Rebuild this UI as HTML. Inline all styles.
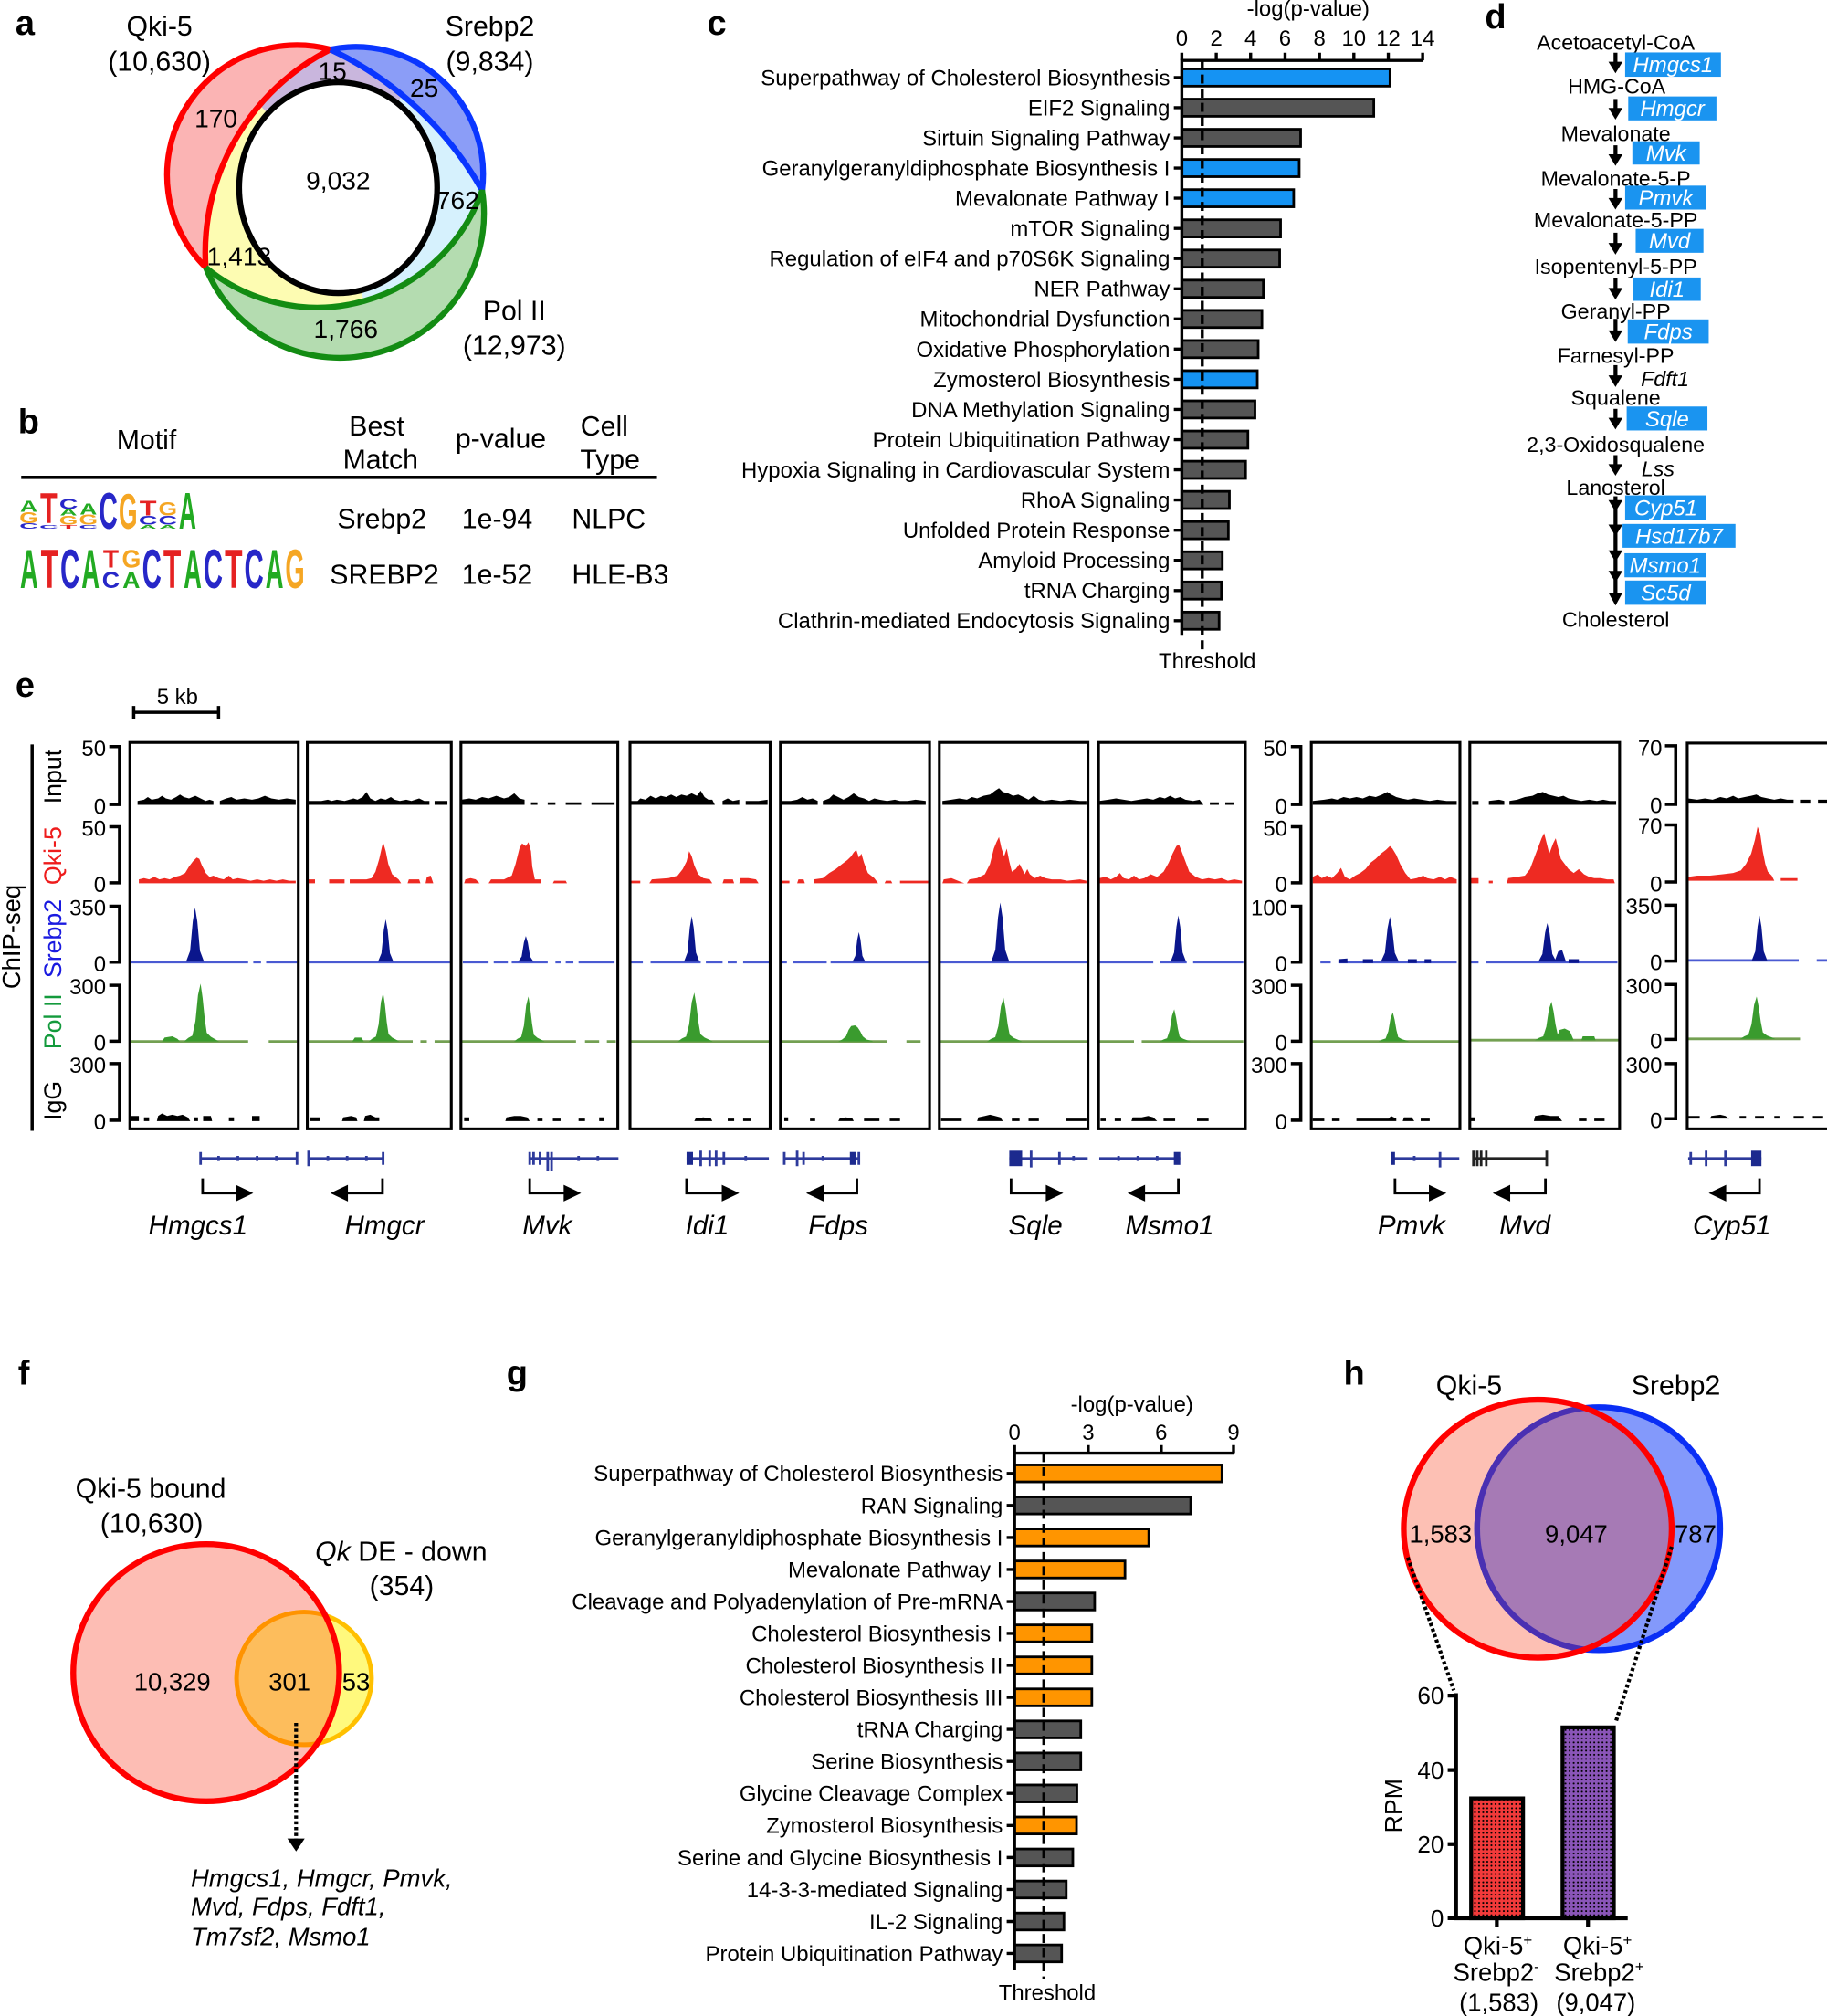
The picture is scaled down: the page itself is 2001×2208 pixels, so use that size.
<!DOCTYPE html>
<html><head><meta charset="utf-8"><style>
html,body{margin:0;padding:0;background:#fff;}
svg{display:block;}
text{font-family:"Liberation Sans",Arial,Helvetica,sans-serif;}
.pl{font-size:27px;font-weight:bold;}
.lg{font-size:100px;font-weight:bold;text-anchor:middle;}
.c17{font-size:17px;}
.e{text-anchor:end;}
.m{text-anchor:middle;}
.it{font-style:italic;}
</style></head><body>
<svg width="2001" height="2208" viewBox="0 0 1421 1568" xmlns="http://www.w3.org/2000/svg">
<defs>
<clipPath id="innerA"><path d="M257,38.5 A177,177 0 0 0 160,208 A136,136 0 0 0 375,148 A265,265 0 0 0 257,38.5 Z"/></clipPath>
<clipPath id="redF"><ellipse cx="160.4" cy="1301" rx="103.4" ry="100"/></clipPath>
<clipPath id="redH"><ellipse cx="1196" cy="1189" rx="104.2" ry="100.3"/></clipPath>
<pattern id="dotR" width="3.2" height="3.2" patternUnits="userSpaceOnUse"><rect width="3.2" height="3.2" fill="#f23a3a"/><circle cx="1.6" cy="1.6" r="0.75" fill="#000"/></pattern>
<pattern id="dotP" width="3.2" height="3.2" patternUnits="userSpaceOnUse"><rect width="3.2" height="3.2" fill="#8a55b8"/><circle cx="1.6" cy="1.6" r="0.75" fill="#000"/></pattern>
</defs>
<rect width="1421" height="1568" fill="#fff"/>

<!-- ============ PANEL A ============ -->
<text class="pl" x="12" y="27">a</text>
<g font-size="21.5" text-anchor="middle">
<text x="124" y="27.7">Qki-5</text><text x="124" y="55.2">(10,630)</text>
<text x="381" y="27.7">Srebp2</text><text x="381" y="55.2">(9,834)</text>
<text x="400" y="249">Pol II</text><text x="400" y="276">(12,973)</text>
</g>
<path d="M257,38.5 A101,101 0 0 0 160,208 A177,177 0 0 1 257,38.5 Z" fill="#fbb4b4"/>
<path d="M257,38.5 A99,99 0 0 1 375,148 A265,265 0 0 0 257,38.5 Z" fill="#8b9df7"/>
<path d="M160,208 A112.3,112.3 0 0 0 375,148 A136,136 0 0 1 160,208 Z" fill="#b4dcb0"/>
<g clip-path="url(#innerA)">
<rect x="100" y="0" width="320" height="300" fill="#fdfcb2"/>
<polygon points="263,146 80,-47 413,-70" fill="#c9b6dd"/>
<polygon points="263,146 413,-70 600,-70 600,400 335,466" fill="#d6f1fd"/>
</g>
<ellipse cx="263" cy="146" rx="77" ry="82" fill="#fff" stroke="#000" stroke-width="4.5"/>
<g fill="none" stroke-width="4.5">
<path d="M257,38.5 A101,101 0 0 0 160,208 A177,177 0 0 1 257,38.5" stroke="#ff0000"/>
<path d="M257,38.5 A99,99 0 0 1 375,148 A265,265 0 0 0 257,38.5" stroke="#0a36ff"/>
<path d="M160,208 A112.3,112.3 0 0 0 375,148 A136,136 0 0 1 160,208" stroke="#138c13"/>
</g>
<g font-size="20" text-anchor="middle">
<text x="258.6" y="62">15</text><text x="330" y="75.4">25</text><text x="168" y="99.2">170</text>
<text x="263" y="147.2">9,032</text><text x="356" y="162.7">762</text><text x="186" y="206.2">1,413</text><text x="269" y="262.8">1,766</text>
</g>

<!-- ============ PANEL B ============ -->
<text class="pl" x="14" y="337">b</text>
<g font-size="21.5" text-anchor="middle">
<text x="114" y="349.5">Motif</text>
<text x="293" y="338.7">Best</text><text x="296" y="364.7">Match</text>
<text x="389.5" y="348.5">p-value</text>
<text x="470" y="338.7">Cell</text><text x="474.5" y="364.7">Type</text>
<text x="297" y="411">Srebp2</text><text x="386.7" y="411">1e-94</text><text x="473.5" y="411">NLPC</text>
<text x="299" y="454">SREBP2</text><text x="386.7" y="454">1e-52</text><text x="482.5" y="454">HLE-B3</text>
</g>
<line x1="16.5" y1="371.3" x2="511" y2="371.3" stroke="#000" stroke-width="2.6"/>
<!-- logo row 1 -->
<g>
<text class="lg" fill="#2727c8" transform="translate(22.4,411) scale(0.2015,0.056)">C</text>
<text class="lg" fill="#f5a623" transform="translate(22.4,407) scale(0.1875,0.125)">G</text>
<text class="lg" fill="#22aa22" transform="translate(22.4,398) scale(0.1875,0.125)">A</text>
<text class="lg" fill="#2727c8" transform="translate(37.9,411) scale(0.2015,0.042)">C</text>
<text class="lg" fill="#e52222" transform="translate(37.9,407) scale(0.218,0.333)">T</text>
<text class="lg" fill="#e52222" transform="translate(53.3,411) scale(0.218,0.042)">T</text>
<text class="lg" fill="#f5a623" transform="translate(53.3,408) scale(0.1875,0.097)">G</text>
<text class="lg" fill="#22aa22" transform="translate(53.3,401) scale(0.1875,0.069)">A</text>
<text class="lg" fill="#2727c8" transform="translate(53.3,396) scale(0.2015,0.111)">C</text>
<text class="lg" fill="#2727c8" transform="translate(68.7,411) scale(0.2015,0.042)">C</text>
<text class="lg" fill="#f5a623" transform="translate(68.7,408) scale(0.1875,0.111)">G</text>
<text class="lg" fill="#22aa22" transform="translate(68.7,400) scale(0.1875,0.125)">A</text>
<text class="lg" fill="#2727c8" transform="translate(84.2,411) scale(0.2015,0.403)">C</text>
<text class="lg" fill="#f5a623" transform="translate(99.6,411) scale(0.1875,0.389)">G</text>
<text class="lg" fill="#22aa22" transform="translate(115.1,411) scale(0.1875,0.042)">A</text>
<text class="lg" fill="#2727c8" transform="translate(115.1,408) scale(0.2015,0.097)">C</text>
<text class="lg" fill="#e52222" transform="translate(115.1,401) scale(0.218,0.167)">T</text>
<text class="lg" fill="#22aa22" transform="translate(130.5,411) scale(0.1875,0.042)">A</text>
<text class="lg" fill="#2727c8" transform="translate(130.5,408) scale(0.2015,0.097)">C</text>
<text class="lg" fill="#f5a623" transform="translate(130.5,401) scale(0.1875,0.153)">G</text>
<text class="lg" fill="#22aa22" transform="translate(145.9,411) scale(0.1875,0.403)">A</text>
</g>
<!-- logo row 2 -->
<g>
<text class="lg" fill="#22aa22" transform="translate(22.65,457.4) scale(0.194,0.428)">A</text>
<text class="lg" fill="#e52222" transform="translate(38.55,457.4) scale(0.226,0.428)">T</text>
<text class="lg" fill="#2727c8" transform="translate(54.45,457.4) scale(0.209,0.428)">C</text>
<text class="lg" fill="#22aa22" transform="translate(70.35,457.4) scale(0.194,0.428)">A</text>
<text class="lg" fill="#e52222" transform="translate(86.25,441.5) scale(0.2,0.2)">T</text>
<text class="lg" fill="#2727c8" transform="translate(86.25,457.4) scale(0.19,0.18)">C</text>
<text class="lg" fill="#f5a623" transform="translate(102.15,441.5) scale(0.19,0.2)">G</text>
<text class="lg" fill="#22aa22" transform="translate(102.15,457.4) scale(0.19,0.18)">A</text>
<text class="lg" fill="#2727c8" transform="translate(118.05,457.4) scale(0.209,0.428)">C</text>
<text class="lg" fill="#e52222" transform="translate(133.95,457.4) scale(0.226,0.428)">T</text>
<text class="lg" fill="#22aa22" transform="translate(149.85,457.4) scale(0.194,0.428)">A</text>
<text class="lg" fill="#2727c8" transform="translate(165.75,457.4) scale(0.209,0.428)">C</text>
<text class="lg" fill="#e52222" transform="translate(181.65,457.4) scale(0.226,0.428)">T</text>
<text class="lg" fill="#2727c8" transform="translate(197.55,457.4) scale(0.209,0.428)">C</text>
<text class="lg" fill="#22aa22" transform="translate(213.45,457.4) scale(0.194,0.428)">A</text>
<text class="lg" fill="#f5a623" transform="translate(229.35,457.4) scale(0.194,0.428)">G</text>
</g>

<!-- ============ PANEL C ============ -->
<text class="pl" x="550" y="27">c</text>
<text class="c17 m" x="1017.5" y="12.5">-log(p-value)</text>
<g class="c17" text-anchor="middle">
<text x="919.2" y="35.5">0</text><text x="946" y="35.5">2</text><text x="972.7" y="35.5">4</text><text x="999.5" y="35.5">6</text>
<text x="1026.3" y="35.5">8</text><text x="1053" y="35.5">10</text><text x="1079.8" y="35.5">12</text><text x="1106.5" y="35.5">14</text>
</g>
<g stroke="#000" stroke-width="2">
<rect x="919.2" y="53.6" width="161.9" height="13.4" fill="#1593f3"/>
<rect x="919.2" y="77.07" width="149.3" height="13.4" fill="#555"/>
<rect x="919.2" y="100.54" width="92.4" height="13.4" fill="#555"/>
<rect x="919.2" y="124.01" width="91.3" height="13.4" fill="#1593f3"/>
<rect x="919.2" y="147.48" width="87" height="13.4" fill="#1593f3"/>
<rect x="919.2" y="170.95" width="76.8" height="13.4" fill="#555"/>
<rect x="919.2" y="194.42" width="76.1" height="13.4" fill="#555"/>
<rect x="919.2" y="217.89" width="63.4" height="13.4" fill="#555"/>
<rect x="919.2" y="241.36" width="62.3" height="13.4" fill="#555"/>
<rect x="919.2" y="264.83" width="59.4" height="13.4" fill="#555"/>
<rect x="919.2" y="288.3" width="58.7" height="13.4" fill="#1593f3"/>
<rect x="919.2" y="311.77" width="56.9" height="13.4" fill="#555"/>
<rect x="919.2" y="335.24" width="51.4" height="13.4" fill="#555"/>
<rect x="919.2" y="358.71" width="49.6" height="13.4" fill="#555"/>
<rect x="919.2" y="382.18" width="37" height="13.4" fill="#555"/>
<rect x="919.2" y="405.65" width="36.2" height="13.4" fill="#555"/>
<rect x="919.2" y="429.12" width="31.5" height="13.4" fill="#555"/>
<rect x="919.2" y="452.59" width="30.8" height="13.4" fill="#555"/>
<rect x="919.2" y="476.06" width="29" height="13.4" fill="#555"/>
</g>
<g stroke="#000" stroke-width="2.4" fill="none">
<path d="M919.2,494.4 V47 H1106.5"/>
<path d="M919.2,47V41 M946,47V41 M972.7,47V41 M999.5,47V41 M1026.3,47V41 M1053,47V41 M1079.8,47V41 M1106.5,47V41"/>
<path d="M913,60.3H919 M913,83.77H919 M913,107.24H919 M913,130.71H919 M913,154.18H919 M913,177.65H919 M913,201.12H919 M913,224.59H919 M913,248.06H919 M913,271.53H919 M913,295H919 M913,318.47H919 M913,341.94H919 M913,365.41H919 M913,388.88H919 M913,412.35H919 M913,435.82H919 M913,459.29H919 M913,482.76H919"/>
<line x1="935.1" y1="47" x2="935.1" y2="507" stroke-dasharray="7,4"/>
</g>
<text class="c17 m" x="939" y="520">Threshold</text>
<g class="c17 e">
<text x="910" y="66.3">Superpathway of Cholesterol Biosynthesis</text>
<text x="910" y="89.77">EIF2 Signaling</text>
<text x="910" y="113.24">Sirtuin Signaling Pathway</text>
<text x="910" y="136.71">Geranylgeranyldiphosphate Biosynthesis I</text>
<text x="910" y="160.18">Mevalonate Pathway I</text>
<text x="910" y="183.65">mTOR Signaling</text>
<text x="910" y="207.12">Regulation of eIF4 and p70S6K Signaling</text>
<text x="910" y="230.59">NER Pathway</text>
<text x="910" y="254.06">Mitochondrial Dysfunction</text>
<text x="910" y="277.53">Oxidative Phosphorylation</text>
<text x="910" y="301">Zymosterol Biosynthesis</text>
<text x="910" y="324.47">DNA Methylation Signaling</text>
<text x="910" y="347.94">Protein Ubiquitination Pathway</text>
<text x="910" y="371.41">Hypoxia Signaling in Cardiovascular System</text>
<text x="910" y="394.88">RhoA Signaling</text>
<text x="910" y="418.35">Unfolded Protein Response</text>
<text x="910" y="441.82">Amyloid Processing</text>
<text x="910" y="465.29">tRNA Charging</text>
<text x="910" y="488.76">Clathrin-mediated Endocytosis Signaling</text>
</g>

<!-- ============ PANEL D ============ -->
<text class="pl" x="1155" y="22">d</text>
<g font-size="16.5" text-anchor="middle">
<text x="1256.7" y="38.6">Acetoacetyl-CoA</text>
<text x="1257.4" y="72.8">HMG-CoA</text>
<text x="1256.7" y="109.7">Mevalonate</text>
<text x="1256.7" y="144.6">Mevalonate-5-P</text>
<text x="1256.7" y="177">Mevalonate-5-PP</text>
<text x="1256.7" y="213">Isopentenyl-5-PP</text>
<text x="1256.7" y="248">Geranyl-PP</text>
<text x="1256.7" y="282.4">Farnesyl-PP</text>
<text x="1256.7" y="315">Squalene</text>
<text x="1256.7" y="351.6">2,3-Oxidosqualene</text>
<text x="1256.7" y="385">Lanosterol</text>
<text x="1256.7" y="487.5">Cholesterol</text>
<text x="1295" y="300.4" font-style="italic">Fdft1</text>
<text x="1289.6" y="370.5" font-style="italic">Lss</text>
</g>
<g fill="#000">
<rect x="1255" y="41" width="3" height="9"/><polygon points="1251,48 1262,48 1256.5,57"/>
<rect x="1255" y="77" width="3" height="9"/><polygon points="1251,84 1262,84 1256.5,93"/>
<rect x="1255" y="113" width="3" height="9"/><polygon points="1251,120 1262,120 1256.5,129"/>
<rect x="1255" y="147" width="3" height="9"/><polygon points="1251,154 1262,154 1256.5,163"/>
<rect x="1255" y="181" width="3" height="10"/><polygon points="1251,189 1262,189 1256.5,198"/>
<rect x="1255" y="216" width="3" height="10"/><polygon points="1251,224 1262,224 1256.5,233"/>
<rect x="1255" y="248" width="3" height="11"/><polygon points="1251,257 1262,257 1256.5,266"/>
<rect x="1255" y="284" width="3" height="10"/><polygon points="1251,292 1262,292 1256.5,301"/>
<rect x="1255" y="318" width="3" height="9"/><polygon points="1251,325 1262,325 1256.5,334"/>
<rect x="1255" y="354" width="3" height="9"/><polygon points="1251,361 1262,361 1256.5,370"/>
<rect x="1255" y="386" width="3" height="82"/>
<polygon points="1251,389 1262,389 1256.5,398"/>
<polygon points="1251,408 1262,408 1256.5,417"/>
<polygon points="1251,428 1262,428 1256.5,437"/>
<polygon points="1251,444 1262,444 1256.5,453"/>
<polygon points="1251,461 1262,461 1256.5,471"/>
</g>
<g fill="#1a94f0">
<rect x="1264" y="40.8" width="74.5" height="18.9"/>
<rect x="1266.4" y="75" width="68.6" height="18.6"/>
<rect x="1269.6" y="109.9" width="52.4" height="18.1"/>
<rect x="1264" y="144.4" width="63.2" height="18.6"/>
<rect x="1272.2" y="178" width="52.7" height="18.6"/>
<rect x="1270.4" y="215.8" width="52.4" height="18.2"/>
<rect x="1266" y="248.4" width="63" height="18.9"/>
<rect x="1265.2" y="316.2" width="62.8" height="18.6"/>
<rect x="1264" y="385.3" width="63.2" height="18.9"/>
<rect x="1262" y="407.5" width="87.8" height="18.5"/>
<rect x="1263.5" y="430.3" width="63.3" height="18.7"/>
<rect x="1264" y="451.5" width="63.2" height="18.9"/>
</g>
<g font-size="17" font-style="italic" text-anchor="middle" fill="#fff">
<text x="1301.25" y="56.2">Hmgcs1</text>
<text x="1300.7" y="90.3">Hmgcr</text>
<text x="1295.8" y="125">Mvk</text>
<text x="1295.6" y="159.7">Pmvk</text>
<text x="1298.55" y="193.3">Mvd</text>
<text x="1296.6" y="230.9">Idi1</text>
<text x="1297.5" y="263.85">Fdps</text>
<text x="1296.6" y="331.5">Sqle</text>
<text x="1295.6" y="400.75">Cyp51</text>
<text x="1305.9" y="422.75">Hsd17b7</text>
<text x="1295.15" y="445.65">Msmo1</text>
<text x="1295.6" y="466.95">Sc5d</text>
</g>

<!-- ============ PANEL E ============ -->
<text class="pl" x="12" y="542">e</text>
<text class="c17 m" x="138" y="547.5">5 kb</text>
<path d="M104,554H170 M104,549V559 M170,549V559" stroke="#000" stroke-width="2.5" fill="none"/>
<line x1="25" y1="579" x2="25" y2="879.5" stroke="#000" stroke-width="2.5"/>
<text font-size="19.5" text-anchor="middle" transform="translate(15.5,728.6) rotate(-90)">ChIP-seq</text>
<g font-size="19" text-anchor="middle">
<text transform="translate(47.5,604) rotate(-90)">Input</text>
<text transform="translate(47.5,665.5) rotate(-90)" fill="#ee1c1c">Qki-5</text>
<text transform="translate(47.5,730) rotate(-90)" fill="#1a1ae0">Srebp2</text>
<text transform="translate(47.5,794.5) rotate(-90)" fill="#139a3c">Pol II</text>
<text transform="translate(47.5,856) rotate(-90)">IgG</text>
</g>
<!-- axis brackets -->
<g stroke="#000" stroke-width="2.5" fill="none">
<path d="M85,580.7H93V625.7H85 M85,643H93V686.6H85 M85,704.8H93V748.3H85 M85,766.3H93V809.8H85 M85,827.2H93V871.3H85"/>
<path d="M1004,580.7H1011.7V625.7H1004 M1004,643H1011.7V686.6H1004 M1004,704.8H1011.7V748.3H1004 M1004,766.3H1011.7V809.8H1004 M1004,827.2H1011.7V871.3H1004"/>
<path d="M1295,580.1H1303.3V625.6H1295 M1295,641.6H1303.3V686H1295 M1295,704H1303.3V747.5H1295 M1295,765.7H1303.3V808.4H1295 M1295,827.2H1303.3V870.1H1295"/>
</g>
<g class="c17 e">
<text x="82.4" y="588">50</text><text x="82.4" y="633">0</text>
<text x="82.4" y="650">50</text><text x="82.4" y="694">0</text>
<text x="82.4" y="712">350</text><text x="82.4" y="755.5">0</text>
<text x="82.4" y="773.5">300</text><text x="82.4" y="817">0</text>
<text x="82.4" y="834.5">300</text><text x="82.4" y="878.5">0</text>
<text x="1001.3" y="588">50</text><text x="1001.3" y="633">0</text>
<text x="1001.3" y="650">50</text><text x="1001.3" y="694">0</text>
<text x="1001.3" y="712">100</text><text x="1001.3" y="755.5">0</text>
<text x="1001.3" y="773.5">300</text><text x="1001.3" y="817">0</text>
<text x="1001.3" y="834.5">300</text><text x="1001.3" y="878.5">0</text>
<text x="1292.8" y="587.5">70</text><text x="1292.8" y="632.5">0</text>
<text x="1292.8" y="648.5">70</text><text x="1292.8" y="693.5">0</text>
<text x="1292.8" y="711">350</text><text x="1292.8" y="754.5">0</text>
<text x="1292.8" y="773">300</text><text x="1292.8" y="815.5">0</text>
<text x="1292.8" y="834.5">300</text><text x="1292.8" y="877.5">0</text>
</g>
<!-- Input tracks -->
<path fill="#000" d="M107,626 L107,623 L112,622 L115,620 L118,622 L123,621 L126,619 L129,621 L133,622 L137,620 L140,618 L143,620 L147,621 L152,619 L156,621 L160,623 L163,622 L166,623 L166,626 Z M171,626 L171,623 L176,621 L180,620 L184,622 L190,621 L196,622 L201,621 L206,619 L211,621 L217,622 L223,621 L230,622 L230,626 Z
M240,626 L240,623 L250,623 L255,622 L258,623 L262,622 L268,623 L275,621 L278,622 L282,620 L285,616 L288,621 L292,623 L296,621 L300,622 L304,620 L307,622 L311,623 L316,622 L320,623 L326,621 L330,623 L334,623 L334,626 Z M338,626 L338,623 L348,623 L348,626 Z
M359,626 L359,622 L365,621 L370,622 L375,620 L380,621 L386,619 L392,621 L396,620 L400,617 L404,621 L408,622 L408,626 Z M413,626 L413,624 L418,624 L418,626 Z M426,626 L426,624 L432,624 L432,626 Z M440,626 L440,624 L452,624 L452,626 Z M460,626 L460,624 L478,624 L478,626 Z
M491,626 L491,623 L496,623 L498,621 L502,622 L506,619 L510,621 L514,619 L518,620 L522,618 L526,620 L530,618 L534,619 L538,617 L542,619 L545,615 L548,620 L551,622 L554,622 L556,626 Z M562,626 L562,623 L566,621 L570,623 L575,622 L575,626 Z M580,626 L580,623 L590,623 L597,622 L597,626 Z
M608,626 L608,623 L615,623 L620,622 L624,620 L628,622 L632,621 L636,623 L636,626 Z M640,626 L640,623 L645,621 L648,618 L652,620 L656,622 L660,620 L664,617 L668,620 L672,621 L676,623 L680,621 L684,622 L690,623 L696,622 L700,623 L706,623 L712,622 L720,623 L720,626 Z
M733,626 L733,623 L740,622 L746,621 L752,622 L756,620 L760,621 L765,619 L770,618 L774,615 L777,613 L780,616 L784,617 L788,619 L792,618 L796,620 L800,622 L804,619 L808,622 L812,623 L818,622 L825,623 L832,622 L840,623 L845,623 L845,626 Z
M855,626 L855,623 L862,622 L868,621 L874,622 L880,623 L886,622 L892,621 L897,622 L902,620 L906,621 L910,619 L914,621 L918,620 L922,622 L928,623 L933,622 L936,626 Z M941,626 L941,624 L948,624 L948,626 Z M953,626 L953,624 L960,624 L960,626 Z
M1021,626 L1021,623 L1030,622 L1036,621 L1040,622 L1045,620 L1050,621 L1055,620 L1060,621 L1065,619 L1070,620 L1075,618 L1079,616 L1082,618 L1086,620 L1090,621 L1095,622 L1100,621 L1106,622 L1112,623 L1118,622 L1125,623 L1133,623 L1133,626 Z
M1145,626 L1145,623 L1150,623 L1150,626 Z M1158,626 L1158,623 L1166,622 L1170,623 L1170,626 Z M1174,626 L1174,623 L1180,622 L1186,620 L1192,619 L1196,617 L1200,616 L1204,618 L1208,619 L1212,620 L1216,619 L1220,621 L1225,622 L1230,623 L1236,622 L1242,623 L1247,622 L1252,623 L1257,623 L1257,626 Z
M1313,625 L1313,621 L1320,622 L1326,621 L1332,622 L1338,620 L1343,621 L1348,619 L1352,621 L1357,620 L1362,619 L1366,618 L1370,620 L1375,621 L1380,622 L1385,621 L1390,622 L1395,622 L1395,625 Z M1400,625 L1400,622 L1408,622 L1408,625 Z M1414,625 L1414,622 L1421,622 L1421,625 Z"/>
<!-- Qki-5 tracks -->
<path fill="#ee2a22" d="M108,687 L108,684 L112,683 L116,684 L120,682 L124,684 L128,683 L132,684 L136,682 L140,681 L144,679 L147,674 L150,670 L153,667 L155,668 L157,673 L160,679 L163,682 L166,681 L170,683 L174,684 L178,681 L181,684 L185,683 L190,684 L195,685 L200,684 L205,685 L210,684 L215,685 L220,684 L225,685 L230,685 L230,687 Z
M240,687 L240,684 L245,684 L245,687 Z M256,687 L256,684 L268,684 L268,687 Z M272,687 L272,684 L285,684 L289,683 L292,678 L295,668 L297,659 L298,655 L300,662 L302,672 L305,680 L310,684 L312,687 Z M317,687 L318,684 L326,684 L327,687 Z M331,687 L332,682 L335,681 L337,687 Z
M361,687 L362,684 L366,683 L370,684 L373,687 Z M380,687 L382,684 L392,684 L398,681 L401,672 L404,660 L406,656 L409,658 L411,655 L413,662 L414,674 L416,684 L421,684 L421,687 Z M430,687 L431,685 L440,685 L441,687 Z
M491,687 L491,685 L498,685 L498,687 Z M505,687 L507,684 L520,683 L527,681 L531,676 L534,670 L536,662 L538,666 L540,673 L543,680 L547,683 L552,684 L554,687 Z M562,687 L563,684 L570,684 L571,687 Z M575,687 L576,683 L582,683 L588,684 L590,687 Z
M608,687 L608,685 L614,685 L614,687 Z M620,687 L621,684 L625,684 L626,687 Z M633,687 L633,684 L640,683 L645,679 L650,676 L655,672 L659,669 L662,666 L664,663 L666,661 L668,667 L670,664 L672,671 L675,679 L680,683 L683,687 Z M688,687 L689,685 L693,685 L694,687 Z M700,687 L700,685 L722,685 L722,687 Z
M733,687 L734,684 L740,683 L745,685 L750,687 Z M752,687 L754,684 L760,683 L766,680 L770,672 L773,660 L775,655 L777,651 L779,660 L781,666 L783,660 L785,670 L787,678 L790,676 L793,672 L795,676 L797,680 L799,676 L801,680 L805,683 L809,681 L813,683 L818,684 L825,684 L830,685 L840,684 L845,685 L845,687 Z
M855,687 L855,683 L860,682 L864,684 L868,682 L871,679 L874,683 L878,684 L882,681 L886,684 L890,683 L895,680 L900,682 L905,678 L909,671 L912,664 L915,658 L917,657 L919,662 L922,670 L925,678 L930,682 L935,684 L940,683 L945,684 L950,683 L955,685 L960,684 L966,685 L966,687 Z
M1021,687 L1021,682 L1025,680 L1028,683 L1032,681 L1036,683 L1040,679 L1043,675 L1046,682 L1050,684 L1054,681 L1058,679 L1062,676 L1066,671 L1070,668 L1074,664 L1078,661 L1081,658 L1083,660 L1086,665 L1089,672 L1093,679 L1097,684 L1102,683 L1107,681 L1110,683 L1115,684 L1120,682 L1124,684 L1128,682 L1133,684 L1133,687 Z
M1144,687 L1144,683 L1150,683 L1150,687 Z M1158,687 L1158,685 L1161,685 L1161,687 Z M1172,687 L1173,683 L1180,682 L1186,681 L1190,676 L1193,668 L1196,660 L1199,652 L1201,648 L1203,656 L1205,664 L1208,656 L1210,652 L1212,660 L1214,668 L1217,672 L1220,676 L1224,679 L1228,676 L1232,680 L1236,682 L1240,683 L1245,683 L1250,684 L1255,684 L1256,687 Z
M1313,685 L1313,682 L1320,681 L1330,681 L1340,680 L1348,679 L1354,677 L1358,672 L1362,664 L1365,653 L1367,643 L1369,648 L1371,662 L1373,672 L1375,678 L1378,681 L1380,685 Z M1385,685 L1385,683 L1398,683 L1398,685 Z"/>
<!-- Srebp2 baselines and peaks -->
<path fill="none" stroke="#4a5ad2" stroke-width="2" d="M102,748.3H193M197,748.3H203M207,748.3H231 M240,748.3H350 M360,748.3H380M384,748.3H395M398,748.3H426M432,748.3H436M440,748.3H446M450,748.3H478 M491,748.3H500M506,748.3H545M549,748.3H562M566,748.3H573M578,748.3H598 M608,748.3H612M617,748.3H643M646,748.3H722 M731,748.3H846 M855,748.3H897M902,748.3H923M928,748.3H967 M1027,748.3H1035M1041,748.3H1133 M1143,748.3H1150M1156,748.3H1258 M1313,747H1399M1413,747H1421"/>
<path fill="#0a168c" d="M144.7,748 L147.85,739.6 L149.95,716.5 L151.7,706 L153.45,716.5 L155.55,739.6 L158.7,748 Z
M294,748 L296.7,741.4 L298.5,723.25 L300,715 L301.5,723.25 L303.3,741.4 L306,748 Z
M403,748 L405.7,744 L407.5,733 L409,728 L410.5,733 L412.3,744 L415,748 Z
M532,748 L534.7,740.9 L536.5,721.4 L538,712.5 L539.5,721.4 L541.3,740.9 L544,748 Z
M663,748 L665.25,743.4 L666.75,730.75 L668,725 L669.25,730.75 L670.75,743.4 L673,748 Z
M771,748 L774.15,738.8 L776.25,713.5 L778,702 L779.75,713.5 L781.85,738.8 L785,748 Z
M910.5,748 L913.2,740.8 L915,721 L916.5,712 L918,721 L919.8,740.8 L922.5,748 Z
M1074,748 L1077.15,741 L1079.25,721.75 L1081,713 L1082.75,721.75 L1084.85,741 L1088,748 Z
M1041,749 L1041,746 L1048,745.5 L1048,749 Z M1060,749 L1060,746 L1068,746 L1068,749 Z M1095,749 L1095,746 L1102,746 L1102,749 Z M1108,749 L1108,746 L1113,746 L1113,749 Z
M1196.5,748 L1199.65,742 L1201.75,725.5 L1203.5,718 L1205.25,725.5 L1207.35,742 L1210.5,748 Z M1209,748 L1212,740 L1215,739 L1218,748 Z M1220,749 L1220,746 L1228,746 L1228,749 Z
M1362.5,747 L1365.2,740 L1367,720.75 L1368.5,712 L1370,720.75 L1371.8,740 L1374.5,747 Z"/>
<!-- Pol II baselines and peaks -->
<path fill="none" stroke="#73a052" stroke-width="2" d="M102,810H193M209,810H231 M240,810H321M327,810H332M338,810H350 M359,810H448M455,810H466M472,810H479 M491,810H598 M607,810H690M705,810H716 M731,810H846 M855,810H882M888,810H967 M1020,810H1135 M1143,809H1259 M1313,808H1400"/>
<path fill="#3a9b2e" d="M143.2,810 L146.4,807.3 L149.6,805.5 L152,794.25 L154,774 L156,765 L157.6,776.25 L159.2,792 L160.8,803.25 L164,806.4 L168.8,809.1 L170.4,810 Z M126,810 L128,807 L134,806 L138,808 L140,810 Z
M286.8,810 L289.6,807.7 L292.4,806.2 L294.5,796.7 L296.25,779.6 L298,772 L299.4,781.5 L300.8,794.8 L302.2,804.3 L305,807 L309.2,809.2 L310.6,810 Z M274,810 L276,807 L281,807 L283,810 Z
M399.8,810 L402.6,807.9 L405.4,806.5 L407.5,797.75 L409.25,782 L411,775 L412.4,783.75 L413.8,796 L415.2,804.75 L418,807.2 L422.2,809.3 L423.6,810 Z
M527.2,810 L530.4,807.7 L533.6,806.2 L536,796.7 L538,779.6 L540,772 L541.6,781.5 L543.2,794.8 L544.8,804.3 L548,807 L552.8,809.2 L554.4,810 Z
M652,810 L655,808.5 L658,806 L660,801 L662,798 L665,797.5 L667,799 L669,802 L671,806 L674,808.5 L678,809.5 L679,810 Z
M767.7,810 L770.9,808 L774.1,806.6 L776.5,798.1 L778.5,782.8 L780.5,776 L782.1,784.5 L783.7,796.4 L785.3,804.9 L788.5,807.3 L793.3,809.3 L794.9,810 Z
M902.1,810 L904.9,808.5 L907.7,807.5 L909.8,801.25 L911.55,790 L913.3,785 L914.7,791.25 L916.1,800 L917.5,806.25 L920.3,808 L924.5,809.5 L925.9,810 Z
M1072.1,810 L1074.9,808.6 L1077.7,807.7 L1079.8,802.1 L1081.55,791.9 L1083.3,787.4 L1084.7,793 L1086.1,801 L1087.5,806.6 L1090.3,808.2 L1094.5,809.5 L1095.9,810 Z
M1193.9,809 L1197.1,807.2 L1200.3,806 L1202.7,798.5 L1204.7,785 L1206.7,779 L1208.3,786.5 L1209.9,797 L1211.5,804.5 L1214.7,806.6 L1219.5,808.4 L1221.1,809 Z M1210,809 L1213,801 L1217,800 L1221,802 L1224,809 Z M1230,809 L1231,806 L1240,806 L1241,809 Z
M1353.5,808 L1356.7,806 L1359.9,804.7 L1362.3,796.5 L1364.3,781.6 L1366.3,775 L1367.9,783.25 L1369.5,794.8 L1371.1,803 L1374.3,805.4 L1379.1,807.3 L1380.7,808 Z"/>
<!-- IgG -->
<path fill="#000" d="M102,872 L102,868 L108,868 L108,872 Z M112,872 L112,869 L116,869 L116,872 Z M122,872 L123,868 L126,866 L130,868 L134,867 L138,868 L142,867 L146,869 L148,872 Z M151,872 L151,869 L154,869 L154,872 Z M158,872 L158,868 L164,868 L165,872 Z M178,872 L178,869 L182,869 L182,872 Z M196,872 L196,868 L202,868 L202,872 Z
M241,872 L241,869 L249,869 L249,872 Z M266,872 L267,869 L273,868 L277,869 L278,872 Z M283,872 L284,868 L288,867 L292,869 L295,869 L295,872 Z
M361,872 L361,869 L365,869 L365,872 Z M393,872 L394,869 L400,868 L405,868 L410,869 L412,872 Z M418,872 L418,870 L422,870 L422,872 Z M430,872 L430,870 L436,870 L436,872 Z M450,872 L450,870 L455,870 L455,872 Z M466,872 L466,869 L470,869 L470,872 Z
M540,872 L541,870 L547,869 L553,870 L554,872 Z M566,872 L566,870 L571,870 L571,872 Z M578,872 L578,870 L584,870 L584,872 Z
M610,872 L610,869 L613,869 L613,872 Z M630,872 L630,870 L634,870 L634,872 Z M652,872 L653,870 L658,869 L663,870 L664,872 Z M672,872 L672,870 L684,870 L684,872 Z M692,872 L692,870 L700,870 L700,872 Z
M732,872 L732,870 L748,870 L748,872 Z M760,872 L761,869 L766,868 L770,867 L774,868 L778,869 L780,872 Z M787,872 L787,870 L793,870 L793,872 Z M800,872 L800,870 L808,870 L808,872 Z M829,872 L829,870 L845,870 L845,872 Z
M856,872 L856,870 L860,870 L860,872 Z M867,872 L867,870 L872,870 L872,872 Z M880,872 L881,869 L888,869 L893,868 L897,869 L900,872 Z M905,872 L905,870 L914,870 L914,872 Z M931,872 L931,870 L940,870 L940,872 Z
M1021,872 L1021,870 L1030,870 L1030,872 Z M1036,872 L1036,870 L1042,870 L1042,872 Z M1055,872 L1055,870 L1080,870 L1082,868 L1086,870 L1086,872 Z M1091,872 L1092,869 L1098,869 L1100,872 Z M1105,872 L1105,870 L1112,870 L1112,872 Z
M1144,872 L1144,869 L1147,869 L1147,872 Z M1193,872 L1194,868 L1200,867 L1206,868 L1212,868 L1215,872 Z M1228,872 L1228,870 L1234,870 L1234,872 Z M1240,872 L1240,870 L1248,870 L1248,872 Z
M1313,870 L1313,868 L1322,868 L1322,870 Z M1330,870 L1331,868 L1338,867 L1342,868 L1345,870 Z M1353,870 L1353,868 L1358,868 L1358,870 Z M1365,870 L1365,868 L1372,868 L1372,870 Z M1380,870 L1380,868 L1384,868 L1384,870 Z M1395,870 L1395,868 L1403,868 L1403,870 Z M1410,870 L1410,868 L1418,868 L1418,870 Z"/>
<!-- boxes -->
<g fill="none" stroke="#000" stroke-width="2.2">
<rect x="101" y="577.5" width="131" height="300.5"/>
<rect x="239" y="577.5" width="112" height="300.5"/>
<rect x="358.5" y="577.5" width="122" height="300.5"/>
<rect x="490" y="577.5" width="109" height="300.5"/>
<rect x="607" y="577.5" width="116" height="300.5"/>
<rect x="730.6" y="577.5" width="115.6" height="300.5"/>
<rect x="854.4" y="577.5" width="114.2" height="300.5"/>
<rect x="1019.9" y="577.5" width="115.6" height="300.5"/>
<rect x="1143.2" y="577.5" width="116.5" height="300.5"/>
<rect x="1312.3" y="578" width="112" height="300"/>
</g>
<!-- gene models -->
<g stroke="#2d3a9c" stroke-width="2" fill="none">
<path d="M156,901H231 M156,896V906 M231,896V906 M170,899V903 M185,899V903 M200,899V903 M215,899V903"/>
<path d="M240,901H298 M240,895V907 M298,896V906 M255,899V903 M270,899V903 M285,899V903"/>
<path d="M411,901H481 M412,896V906 M415,896V906 M420,896V906 M426,896V911 M429,896V911 M450,899V903 M465,899V903"/>
<path d="M534,901H598 M545,895V907 M552,895V907 M557,895V907 M563,896V906 M580,899V903"/>
<path d="M609,901H668 M610,896V906 M620,895V907 M625,896V906 M668,896V906 M640,899V903"/>
<path d="M785,901H846 M802,895V908 M824,896V906 M835,899V903"/>
<path d="M855,901H918 M870,899V903 M885,899V903 M900,899V903"/>
<path d="M1082,901H1135 M1120,896V908 M1100,899V903"/>
<path d="M1313,901H1370 M1315,896V906 M1327,895V907 M1342,895V907"/>
</g>
<g fill="#1c2a8e">
<rect x="534" y="896" width="5" height="10"/>
<rect x="661" y="896" width="5" height="10"/>
<rect x="785" y="895" width="10" height="12"/>
<rect x="913" y="896" width="5" height="10"/>
<rect x="1082" y="896" width="3" height="10"/>
<rect x="1362" y="895" width="8" height="12"/>
</g>
<path d="M1145,901H1203 M1146,895V907 M1149,895V907 M1152,895V907 M1156,895V907 M1203,895V907" stroke="#222" stroke-width="2" fill="none"/>
<!-- arrows -->
<g stroke="#000" stroke-width="2" fill="none">
<path d="M157.6,916.5V928H184"/><path d="M412,916.5V928H439"/><path d="M534,916.5V928H562"/><path d="M786.4,916.5V928H814"/><path d="M1085,916.5V928H1112"/>
<path d="M297.5,916.5V928H270"/><path d="M666.5,916.5V928H640"/><path d="M916.5,916.5V928H890"/><path d="M1202,916.5V928H1174"/><path d="M1368.5,916.5V928H1342"/>
</g>
<g fill="#000">
<polygon points="183.4,921.5 183.4,934.5 197,928"/><polygon points="438.4,921.5 438.4,934.5 452,928"/><polygon points="561.4,921.5 561.4,934.5 575,928"/><polygon points="813.4,921.5 813.4,934.5 827,928"/><polygon points="1111.4,921.5 1111.4,934.5 1125,928"/>
<polygon points="270.6,921.5 270.6,934.5 257,928"/><polygon points="640.6,921.5 640.6,934.5 627,928"/><polygon points="890.6,921.5 890.6,934.5 877,928"/><polygon points="1174.6,921.5 1174.6,934.5 1161,928"/><polygon points="1342.6,921.5 1342.6,934.5 1329,928"/>
</g>
<g font-size="21" font-style="italic" text-anchor="middle">
<text x="154" y="960">Hmgcs1</text><text x="299" y="960">Hmgcr</text><text x="425.6" y="960">Mvk</text>
<text x="550" y="960">Idi1</text><text x="652" y="960">Fdps</text><text x="805.4" y="960">Sqle</text>
<text x="909.7" y="960">Msmo1</text><text x="1097.8" y="960">Pmvk</text><text x="1186" y="960">Mvd</text><text x="1347" y="960">Cyp51</text>
</g>

<!-- ============ PANEL F ============ -->
<text class="pl" x="14" y="1077">f</text>
<g font-size="21.5" text-anchor="middle">
<text x="117.2" y="1165">Qki-5 bound</text><text x="118" y="1192">(10,630)</text>
<text x="312" y="1214"><tspan font-style="italic">Qk</tspan> DE - down</text><text x="312.4" y="1240.5">(354)</text>
</g>
<ellipse cx="160.4" cy="1301" rx="103.4" ry="100" fill="#fdbdb4"/>
<ellipse cx="236.5" cy="1305.4" rx="52.5" ry="51.6" fill="#fff97d" stroke="#ffc000" stroke-width="3.5"/>
<g clip-path="url(#redF)">
<ellipse cx="236.5" cy="1305.4" rx="52.5" ry="51.6" fill="#fdbd5c" stroke="#ff9300" stroke-width="3.5"/>
</g>
<ellipse cx="160.4" cy="1301" rx="103.4" ry="100" fill="none" stroke="#ff0000" stroke-width="4.5"/>
<g font-size="19.5" text-anchor="middle">
<text x="134" y="1315">10,329</text><text x="225.2" y="1315">301</text><text x="277" y="1315">53</text>
</g>
<line x1="230.3" y1="1340" x2="230.3" y2="1432" stroke="#000" stroke-width="3" stroke-dasharray="2.5,2"/>
<polygon points="223.5,1430 237,1430 230.3,1440" fill="#000"/>
<g font-size="19.5" font-style="italic">
<text x="148.4" y="1467.4">Hmgcs1, Hmgcr, Pmvk,</text>
<text x="148.4" y="1489.4">Mvd, Fdps, Fdft1,</text>
<text x="148.4" y="1513">Tm7sf2, Msmo1</text>
</g>

<!-- ============ PANEL G ============ -->
<text class="pl" x="394" y="1077">g</text>
<text class="c17 m" x="880.4" y="1098">-log(p-value)</text>
<g class="c17 m">
<text x="789.1" y="1120">0</text><text x="846.4" y="1120">3</text><text x="903.2" y="1120">6</text><text x="959.4" y="1120">9</text>
</g>
<g stroke="#000" stroke-width="2">
<rect x="789.1" y="1139.4" width="161.3" height="13.2" fill="#ff9500"/>
<rect x="789.1" y="1164.3" width="137" height="13.2" fill="#555"/>
<rect x="789.1" y="1189.2" width="104.4" height="13.2" fill="#ff9500"/>
<rect x="789.1" y="1214.1" width="85.9" height="13.2" fill="#ff9500"/>
<rect x="789.1" y="1239" width="62.3" height="13.2" fill="#555"/>
<rect x="789.1" y="1263.8" width="60.1" height="13.2" fill="#ff9500"/>
<rect x="789.1" y="1288.7" width="60.1" height="13.2" fill="#ff9500"/>
<rect x="789.1" y="1313.6" width="60.1" height="13.2" fill="#ff9500"/>
<rect x="789.1" y="1338.5" width="51.5" height="13.2" fill="#555"/>
<rect x="789.1" y="1363.4" width="51.5" height="13.2" fill="#555"/>
<rect x="789.1" y="1388.3" width="48.5" height="13.2" fill="#555"/>
<rect x="789.1" y="1413.2" width="48.2" height="13.2" fill="#ff9500"/>
<rect x="789.1" y="1438.1" width="45.3" height="13.2" fill="#555"/>
<rect x="789.1" y="1463" width="40.2" height="13.2" fill="#555"/>
<rect x="789.1" y="1487.9" width="38.4" height="13.2" fill="#555"/>
<rect x="789.1" y="1512.7" width="36.6" height="13.2" fill="#555"/>
</g>
<g stroke="#000" stroke-width="2.4" fill="none">
<path d="M789.1,1532.5V1130.2H959.4"/>
<path d="M789.1,1130.2V1124 M846.4,1130.2V1124 M903.2,1130.2V1124 M959.4,1130.2V1124"/>
<path d="M783,1146H789 M783,1170.9H789 M783,1195.8H789 M783,1220.7H789 M783,1245.6H789 M783,1270.4H789 M783,1295.3H789 M783,1320.2H789 M783,1345.1H789 M783,1370H789 M783,1394.9H789 M783,1419.8H789 M783,1444.7H789 M783,1469.6H789 M783,1494.5H789 M783,1519.3H789"/>
<line x1="811.9" y1="1130.2" x2="811.9" y2="1539" stroke-dasharray="7,4"/>
</g>
<text class="c17 m" x="814.5" y="1555.5">Threshold</text>
<g class="c17 e">
<text x="780" y="1152">Superpathway of Cholesterol Biosynthesis</text>
<text x="780" y="1176.9">RAN Signaling</text>
<text x="780" y="1201.8">Geranylgeranyldiphosphate Biosynthesis I</text>
<text x="780" y="1226.7">Mevalonate Pathway I</text>
<text x="780" y="1251.6">Cleavage and Polyadenylation of Pre-mRNA</text>
<text x="780" y="1276.4">Cholesterol Biosynthesis I</text>
<text x="780" y="1301.3">Cholesterol Biosynthesis II</text>
<text x="780" y="1326.2">Cholesterol Biosynthesis III</text>
<text x="780" y="1351.1">tRNA Charging</text>
<text x="780" y="1376">Serine Biosynthesis</text>
<text x="780" y="1400.9">Glycine Cleavage Complex</text>
<text x="780" y="1425.8">Zymosterol Biosynthesis</text>
<text x="780" y="1450.7">Serine and Glycine Biosynthesis I</text>
<text x="780" y="1475.6">14-3-3-mediated Signaling</text>
<text x="780" y="1500.5">IL-2 Signaling</text>
<text x="780" y="1525.3">Protein Ubiquitination Pathway</text>
</g>

<!-- ============ PANEL H ============ -->
<text class="pl" x="1045" y="1077">h</text>
<g font-size="21.5" text-anchor="middle">
<text x="1142.6" y="1084.7">Qki-5</text><text x="1303.5" y="1084.7">Srebp2</text>
</g>
<ellipse cx="1196" cy="1189" rx="104.2" ry="100.3" fill="#fdc0b4"/>
<circle cx="1243.4" cy="1189" r="94.5" fill="#8399fb" stroke="#0a2ef5" stroke-width="4.5"/>
<g clip-path="url(#redH)">
<circle cx="1243.4" cy="1189" r="94.5" fill="#a67ab5" stroke="#4a30b2" stroke-width="4.5"/>
</g>
<ellipse cx="1196" cy="1189" rx="104.2" ry="100.3" fill="none" stroke="#ff0000" stroke-width="4.5"/>
<g font-size="19.5" text-anchor="middle">
<text x="1120.5" y="1199.8">1,583</text><text x="1226" y="1199.8">9,047</text><text x="1318.7" y="1199.8">787</text>
</g>
<g stroke="#000" stroke-width="3" stroke-dasharray="2.5,2" fill="none">
<line x1="1095" y1="1211.4" x2="1130.7" y2="1314.7"/>
<line x1="1300.2" y1="1203" x2="1256.5" y2="1340"/>
</g>
<rect x="1144.2" y="1398.7" width="40.4" height="93.3" fill="url(#dotR)" stroke="#000" stroke-width="3"/>
<rect x="1215.3" y="1343.5" width="39.9" height="148.5" fill="url(#dotP)" stroke="#000" stroke-width="3"/>
<g stroke="#000" stroke-width="3" fill="none">
<path d="M1132.5,1317V1492H1266"/>
<path d="M1126,1318.8H1132.5 M1126,1376.7H1132.5 M1126,1434.3H1132.5 M1126,1491.9H1132.5"/>
<path d="M1164.2,1492V1499 M1235.1,1492V1499"/>
</g>
<g font-size="18.5" text-anchor="end">
<text x="1123" y="1325.3">60</text><text x="1123" y="1383.2">40</text><text x="1123" y="1440.8">20</text><text x="1123" y="1498.4">0</text>
</g>
<text font-size="19" text-anchor="middle" transform="translate(1090.5,1404.5) rotate(-90)">RPM</text>
<g font-size="19.5" text-anchor="middle">
<text x="1165" y="1520">Qki-5<tspan font-size="12" dy="-7">+</tspan></text>
<text x="1163.7" y="1540.5">Srebp2<tspan font-size="12" dy="-7">-</tspan></text>
<text x="1165.8" y="1564">(1,583)</text>
<text x="1242.5" y="1520">Qki-5<tspan font-size="12" dy="-7">+</tspan></text>
<text x="1243.8" y="1540.5">Srebp2<tspan font-size="12" dy="-7">+</tspan></text>
<text x="1241.2" y="1564">(9,047)</text>
</g>
</svg>
</body></html>
